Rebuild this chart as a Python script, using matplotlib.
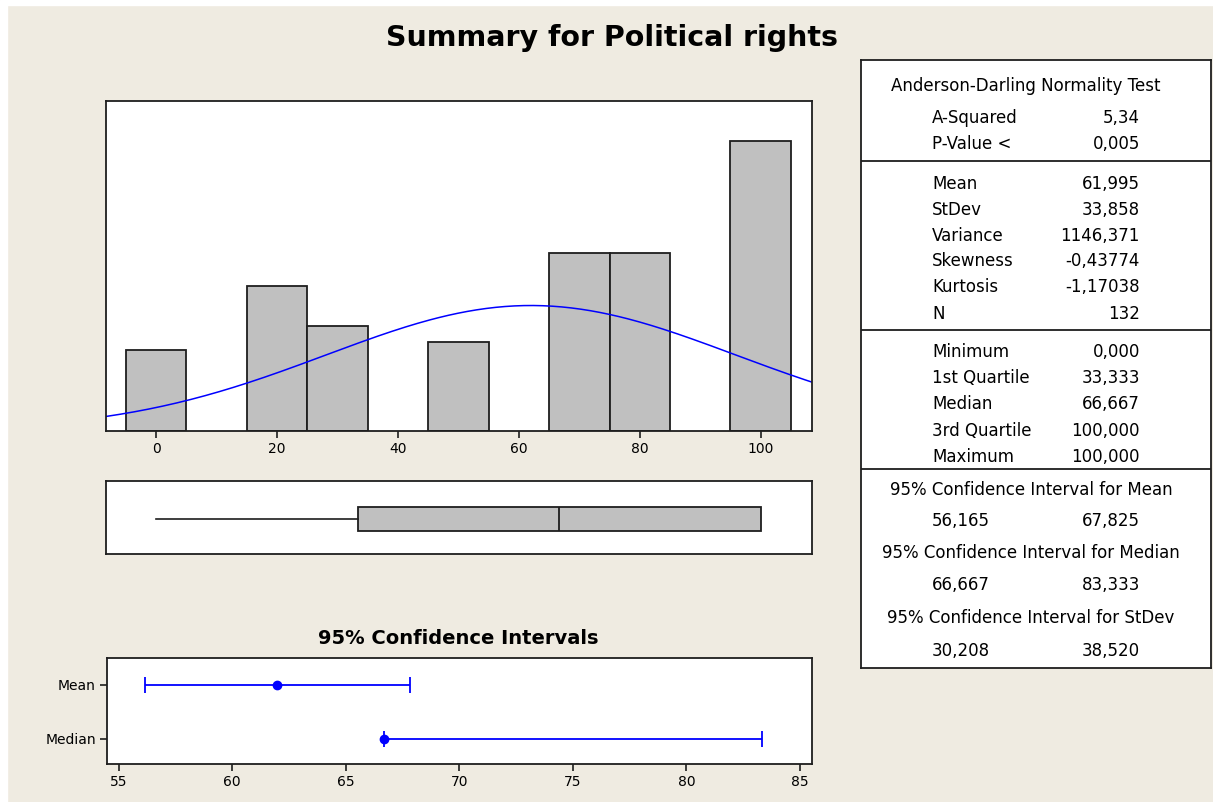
import numpy as np
import matplotlib
matplotlib.use("Agg")
import matplotlib.pyplot as plt
from matplotlib.patches import Rectangle

# histogram bins (midpoints, width 10) and counts, N = 132
bin_mid = [0, 20, 30, 50, 70, 80, 100]
counts = [10, 18, 13, 11, 22, 22, 36]
bin_w = 10

mean, stdev, n = 61.995, 33.858, 132
q_min, q1, med, q3, q_max = 0.0, 33.333, 66.667, 100.0, 100.0
ci_mean = (56.165, 67.825)
ci_median = (66.667, 83.333)

stat_rows = [
    ("A-Squared", "5,34"), ("P-Value <", "0,005"),
    ("Mean", "61,995"), ("StDev", "33,858"), ("Variance", "1146,371"),
    ("Skewness", "-0,43774"), ("Kurtosis", "-1,17038"), ("N", "132"),
    ("Minimum", "0,000"), ("1st Quartile", "33,333"), ("Median", "66,667"),
    ("3rd Quartile", "100,000"), ("Maximum", "100,000"),
]
ci_rows = [
    ("95% Confidence Interval for Mean", "56,165", "67,825"),
    ("95% Confidence Interval for Median", "66,667", "83,333"),
    ("95% Confidence Interval for StDev", "30,208", "38,520"),
]

BG = "#efebe1"
EDGE = "#1e1e1e"
plt.rcParams['font.family'] = ['DejaVu Sans']

W, H = 1213, 802
fig = plt.figure(figsize=(W / 100, H / 100), dpi=100, facecolor=BG)

def px_axes(l, t, r, b):
    return fig.add_axes([l / W, 1 - b / H, (r - l) / W, (b - t) / H])

# white screenshot edges
fig.patches.append(Rectangle((0, 1 - 5 / H), 1, 5 / H, transform=fig.transFigure, color="white", zorder=-1))
fig.patches.append(Rectangle((0, 0), 7 / W, 1, transform=fig.transFigure, color="white", zorder=-1))

fig.text(612 / W, 1 - 38 / H, "Summary for Political rights", ha="center", va="center",
         fontsize=20.5, fontweight="bold")

# histogram with normal fit
ax = px_axes(106, 101, 812, 431)
ax.bar(bin_mid, counts, width=bin_w, color="#c0c0c0", edgecolor=EDGE, linewidth=1.3)
xs = np.linspace(-8.3, 108.5, 300)
pdf = n * bin_w * np.exp(-0.5 * ((xs - mean) / stdev) ** 2) / (stdev * np.sqrt(2 * np.pi))
ax.plot(xs, pdf, color="#0000ff", lw=1.1)
ax.set_xlim(-8.3, 108.5)
ax.set_ylim(0, 40.9)
ax.set_xticks([0, 20, 40, 60, 80, 100])
ax.set_yticks([])
ax.tick_params(axis="x", length=5, width=1.2, color=EDGE, labelsize=10, pad=3)

# boxplot on same scale
axb = px_axes(106, 481, 812, 554)
axb.bxp([{"whislo": q_min, "q1": q1, "med": med, "q3": q3, "whishi": q_max, "fliers": []}],
        positions=[0.48], widths=0.33, vert=False, showcaps=False, patch_artist=True,
        boxprops=dict(facecolor="#c0c0c0", edgecolor=EDGE, linewidth=1.3),
        medianprops=dict(color=EDGE, linewidth=1.3),
        whiskerprops=dict(color=EDGE, linewidth=1.2))
axb.set_xlim(-8.3, 108.5)
axb.set_ylim(0, 1)
axb.set_xticks([])
axb.set_yticks([])

# confidence intervals
axc = px_axes(107, 658, 812, 764)
ci_names = ["Median", "Mean"]
ci_pts = [med, mean]
ci_lo = [ci_median[0], ci_mean[0]]
ci_hi = [ci_median[1], ci_mean[1]]
for i in range(2):
    axc.errorbar(ci_pts[i], i, xerr=[[ci_pts[i] - ci_lo[i]], [ci_hi[i] - ci_pts[i]]],
                 fmt="o", color="#0000ff", ms=6, capsize=6, elinewidth=1.3, capthick=1.3)
axc.set_xlim(54.49, 85.53)
axc.set_ylim(-0.46, 1.49)
axc.set_xticks([55, 60, 65, 70, 75, 80, 85])
axc.set_yticks([0, 1])
axc.set_yticklabels(ci_names)
axc.tick_params(length=5, width=1.2, color=EDGE, labelsize=10, pad=3)
fig.text(458 / W, 1 - 638 / H, "95% Confidence Intervals", ha="center", va="center",
         fontsize=14, fontweight="bold")

for a in (ax, axb, axc):
    a.set_facecolor("white")
    for s in a.spines.values():
        s.set_color(EDGE)
        s.set_linewidth(1.3)

# stats table
axt = px_axes(861, 60, 1211, 668)
axt.set_xlim(861, 1211)
axt.set_ylim(668, 60)
axt.set_xticks([])
axt.set_yticks([])
axt.set_facecolor("white")
for s in axt.spines.values():
    s.set_color(EDGE)
    s.set_linewidth(1.3)
for yy in (161, 330, 469):
    axt.axhline(yy, color=EDGE, lw=1.3)

fs = 12
axt.text(1026, 86, "Anderson-Darling Normality Test", ha="center", va="center", fontsize=fs)
row_y = [118, 144, 184, 210, 236, 261, 287, 314, 352, 378, 404, 431, 457]
for (lab, val), yy in zip(stat_rows, row_y):
    axt.text(932, yy, lab, ha="left", va="center", fontsize=fs)
    axt.text(1140, yy, val, ha="right", va="center", fontsize=fs)
ci_y = [(490, 521), (553, 585), (618, 651)]
for (head, lo, hi), (yh, yv) in zip(ci_rows, ci_y):
    axt.text(1031, yh, head, ha="center", va="center", fontsize=fs)
    axt.text(932, yv, lo, ha="left", va="center", fontsize=fs)
    axt.text(1140, yv, hi, ha="right", va="center", fontsize=fs)

fig.savefig("out.png", dpi=100, facecolor=BG)
